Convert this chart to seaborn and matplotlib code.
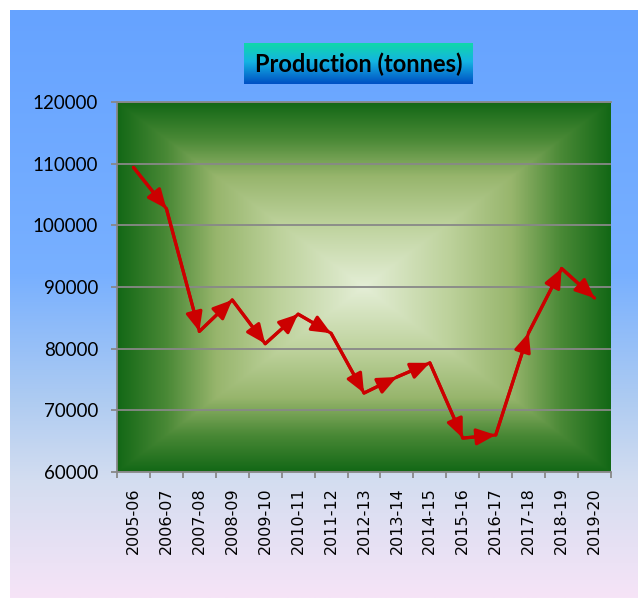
import numpy as np
import pandas as pd
import matplotlib.pyplot as plt
import matplotlib.colors as mcolors
import seaborn as sns

# Data
years = ['2005-06', '2006-07', '2007-08', '2008-09', '2009-10', '2010-11', '2011-12',
         '2012-13', '2013-14', '2014-15', '2015-16', '2016-17', '2017-18', '2018-19', '2019-20']
production = [109400, 102700, 82800, 87900, 80800, 85600, 82500,
              72800, 75400, 77700, 65500, 66000, 82600, 93000, 88200]
y_ticks = [60000, 70000, 80000, 90000, 100000, 110000, 120000]

sns.set_style('white')
plt.rcParams['font.family'] = ['Lato', 'DejaVu Sans']

df = pd.DataFrame({'pos': np.arange(len(years)), 'production': production})

fig = plt.figure(figsize=(6.38, 5.98), dpi=100)
fig.patch.set_facecolor('white')

# figure background: blue at top fading to pale pink
bg = fig.add_axes([10 / 638, 0, 628 / 638, 588 / 598], zorder=-10)
bg_cmap = mcolors.LinearSegmentedColormap.from_list(
    'bg', [(0, '#66A3FF'), (0.45, '#78B0FF'), (0.66, '#ADCBF2'), (0.8, '#D3DDF0'), (1, '#F6E4F7')])
bg.imshow(np.linspace(0, 1, 256).reshape(-1, 1), aspect='auto', cmap=bg_cmap, extent=[0, 1, 0, 1])
bg.axis('off')

# plot area
ax = fig.add_axes([117 / 638, 1 - 472 / 598, 494 / 638, 370 / 598])
ax.patch.set_alpha(0)

# rectangular "from centre" gradient for the plot area
u = np.linspace(-1, 1, 400)
v = np.linspace(-1, 1, 400)
U, V = np.meshgrid(u, v)
T = np.maximum(np.abs(U), np.abs(V))
area_cmap = mcolors.LinearSegmentedColormap.from_list(
    'area', [(0, '#E4EED6'), (0.35, '#BCD19A'), (0.6, '#97B56C'), (0.8, '#4A8936'), (1, '#136816')])
ax.imshow(T, aspect='auto', cmap=area_cmap, extent=[-0.5, len(years) - 0.5, y_ticks[0], y_ticks[-1]],
          zorder=0, interpolation='bilinear')

sns.lineplot(data=df, x='pos', y='production', ax=ax, color='#CC0000', lw=2.3, zorder=3)
for i in range(len(years) - 1):
    ax.annotate('', xy=(i + 1, production[i + 1]), xytext=(i, production[i]),
                arrowprops=dict(arrowstyle='-|>,head_length=1.15,head_width=0.5', mutation_scale=10,
                                color='#CC0000', lw=2.3, shrinkA=0, shrinkB=0), zorder=4)

ax.set_xlim(-0.5, len(years) - 0.5)
ax.set_ylim(y_ticks[0], y_ticks[-1])
ax.set_yticks(y_ticks)
ax.set_xticks(np.arange(len(years)))
ax.set_xticklabels(years, rotation=90, fontsize=11.5, family='DejaVu Sans')
ax.set_xticks(np.arange(len(years) + 1) - 0.5, minor=True)
ax.set_xlabel('')
ax.set_ylabel('')
ax.yaxis.grid(True, color='#888888', lw=1.3)
ax.set_axisbelow(True)
ax.tick_params(axis='y', which='major', direction='out', length=4.5, width=1.3, color='#888888',
               labelsize=13.5, labelcolor='black', pad=9, left=True)
ax.tick_params(axis='x', which='major', length=0, pad=11, labelcolor='black')
ax.tick_params(axis='x', which='minor', direction='out', length=4, width=1.3, color='#888888', bottom=True)
for side in ['left', 'bottom', 'top']:
    ax.spines[side].set_color('#888888')
    ax.spines[side].set_linewidth(1.3)
ax.spines['right'].set_visible(False)

# title box with vertical teal-to-blue gradient
tb = fig.add_axes([244 / 638, 1 - 84 / 598, 229 / 638, 41 / 598])
tb_cmap = mcolors.LinearSegmentedColormap.from_list(
    'tb', [(0, '#10D8AA'), (0.45, '#14B4E2'), (1, '#0050C4')])
tb.imshow(np.linspace(0, 1, 64).reshape(-1, 1), aspect='auto', cmap=tb_cmap, extent=[0, 1, 0, 1])
tb.axis('off')
tb.text(0.5, 0.48, 'Production (tonnes)', ha='center', va='center', fontsize=17, fontweight='bold',
        color='black', transform=tb.transAxes)

fig.savefig('out.png', dpi=100)
